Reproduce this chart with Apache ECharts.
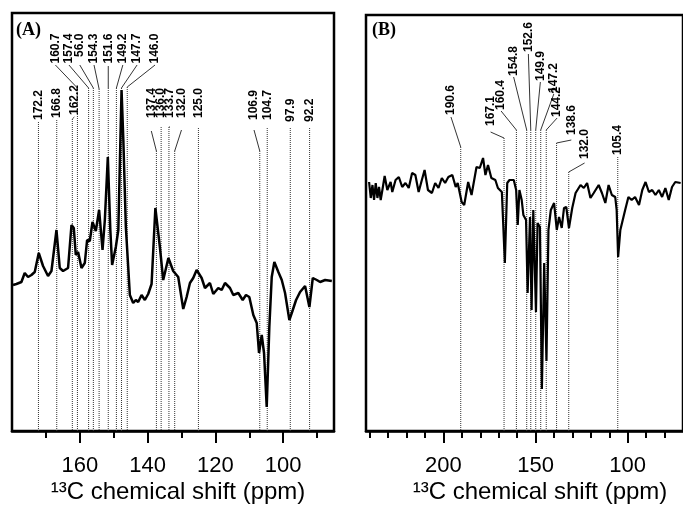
<!DOCTYPE html>
<html><head><meta charset="utf-8">
<script src="https://cdn.jsdelivr.net/npm/echarts@6/dist/echarts.min.js"></script>
<style>html,body{margin:0;padding:0;background:#fff}#c{width:683px;height:510px}</style>
</head><body><div id="c"></div><script>
// ---- Panel A spectrum (ppm, intensity in arbitrary units) ----
const shiftA = [179.70,178.70,177.22,176.25,175.27,174.27,173.29,172.11,170.84,169.37,168.36,166.88,165.91,164.93,163.46,162.45,161.77,161.18,160.50,159.50,158.52,157.84,157.05,156.25,155.27,154.30,153.29,152.61,151.73,150.99,150.46,149.37,148.63,147.68,147.15,146.41,145.23,144.25,143.46,142.78,141.77,140.80,139.82,138.82,137.70,136.37,135.39,133.86,133.41,132.44,130.96,129.48,128.48,127.50,126.53,125.53,124.05,123.07,121.60,120.62,119.14,118.14,117.16,115.69,114.71,113.24,111.94,110.96,109.99,108.80,107.80,107.12,106.32,105.64,104.85,104.08,103.37,102.60,101.42,100.41,99.44,98.17,97.16,96.19,95.01,93.53,92.26,91.26,90.07,89.10,87.62,85.64];
const intensityA = [146,147,149,158,154,156,159,178,165,155,160,201,163,160,163,206,203,176,179,163,168,191,190,209,200,221,181,211,274,201,166,184,201,341,291,204,136,128,131,129,136,131,137,147,223,184,151,173,173,160,154,122,134,148,153,161,153,143,148,137,143,141,148,143,136,138,131,136,134,116,108,78,96,78,24,104,154,169,159,151,138,111,121,131,139,145,124,153,151,149,151,150];

// ---- Panel B spectrum ----
const shiftB = [240.32,239.41,238.49,237.63,236.72,235.80,234.94,234.03,233.11,231.88,230.43,228.65,227.74,225.96,224.19,222.36,220.59,218.81,216.99,215.21,213.44,211.99,210.21,208.38,206.23,204.46,202.68,200.86,199.08,197.31,195.16,193.33,192.25,190.10,188.71,186.56,184.73,182.04,180.27,178.49,177.20,175.80,173.98,171.82,170.43,168.28,166.66,165.37,164.14,161.82,160.53,159.67,158.76,157.52,156.61,155.16,154.30,153.01,152.15,151.23,149.78,148.92,147.63,146.56,145.32,144.08,143.01,141.72,139.94,138.49,137.25,135.80,134.57,133.33,131.88,130.10,128.28,125.59,123.81,122.04,120.21,118.44,115.75,113.98,112.15,110.37,108.60,106.77,106.00,105.20,104.00,101.39,99.62,97.85,96.02,93.87,92.09,90.32,88.49,86.72,84.94,83.11,81.34,79.57,77.74,75.96,74.19,71.29];
const intensityB = [249,233,246,231,248,233,244,231,241,255,241,249,239,251,254,244,248,243,258,256,239,249,261,241,238,248,243,253,248,254,256,244,248,229,226,249,236,264,263,273,256,266,253,251,243,239,168,248,251,251,241,206,241,231,216,211,138,214,121,221,119,208,204,42,168,70,201,221,228,201,214,203,223,224,203,223,238,246,243,248,233,238,246,238,228,246,236,234,221,174,201,221,234,231,234,226,241,249,239,241,236,241,234,243,231,244,249,248];

// ---- Peak assignments ----
const peaksA = [172.2,166.8,162.2,160.7,157.4,156.0,154.3,151.6,149.2,147.7,146.0,137.4,136.0,133.7,132.0,125.0,106.9,104.7,97.9,92.2];
const peakTextA = ['172.2','166.8','162.2','160.7','157.4','56.0','154.3','151.6','149.2','147.7','146.0','137.4','136.0','133.7','132.0','125.0','106.9','104.7','97.9','92.2'];
const peaksB = [190.6,167.1,160.4,154.8,152.6,149.9,147.2,144.2,138.6,132.0,105.4];
const peakTextB = ['190.6','167.1','160.4','154.8','152.6','149.9','147.2','144.2','138.6','132.0','105.4'];

// ---- Axis ticks ----
const majorTicksA = [160,140,120,100];
const minorTicksA = [170,150,130,110,90];
const majorTicksB = [200,150,100];
const minorTicksB = [240,230,220,210,190,180,170,160,140,130,120,110,90,80];

// ---- Label layout (label anchor in axis units) ----
const layoutA = {
  at:    [172.2,166.8,161.6,167.2,163.2,160.0,155.8,151.6,147.3,143.1,137.8,138.9,136.0,133.4,130.0,125.0,108.6,104.7,97.9,92.2],
  base:  [311,313,316,367.5,367.5,374,367.5,367.5,367.5,367.5,367.5,313,313,313,313,313,311,311,309,309],
  lead:  [309,311,314,366,366,366,366,365,366,366,366,300,304,304,301,303,301,303,303,303],
  top:   [309,311,312,343,343,343,342,343,343,343,344,280,304,304,280,303,280,303,303,303]
};
const layoutB = {
  at:    [195.9,174.4,168.7,161.9,153.9,147.4,140.1,138.3,130.6,123.4,105.4],
  base:  [316,305,321,355,379,350,338,314,296,272,276],
  lead:  [314,299,320,354,377,349,337,313,291,268,274],
  top:   [284,293,301,301,301,301,301,301,288,259,274]
};

function buildMarks(peaks, lay) {
  return peaks.map((p, i) => [p, lay.at[i], lay.base[i], lay.lead[i], lay.top[i]]);
}
function makeRender(texts) {
  return function (params, api) {
    const peak = api.value(0), lab = api.value(1), base = api.value(2), lead = api.value(3), top = api.value(4);
    const pB = api.coord([peak, 0]);
    const pT = api.coord([peak, top]);
    const pL = api.coord([lab, lead]);
    const pX = api.coord([lab, base]);
    const children = [{
      type: 'line',
      shape: {x1: pT[0], y1: pT[1], x2: pB[0], y2: pB[1]},
      style: {stroke: '#333', lineWidth: 1, lineDash: [1, 1]}
    }];
    if (Math.abs(pL[0] - pT[0]) > 0.5 || Math.abs(pL[1] - pT[1]) > 0.5) {
      children.push({type: 'line', shape: {x1: pL[0], y1: pL[1], x2: pT[0], y2: pT[1]},
        style: {stroke: '#000', lineWidth: 0.8}});
    }
    children.push({
      type: 'text', x: pX[0], y: pX[1], rotation: Math.PI / 2,
      style: {text: texts[params.dataIndex], fill: '#000',
        font: 'bold 12px "Liberation Sans", Arial, sans-serif',
        align: 'left', verticalAlign: 'middle', textAlign: 'left', textVerticalAlign: 'middle'}
    });
    return {type: 'group', children: children};
  };
}

function xAxes(grid, min, max, major, minor) {
  return [
    {gridIndex: grid, type: 'value', min: min, max: max, inverse: true, position: 'bottom',
     splitLine: {show: false},
     axisLine: {show: true, onZero: false, lineStyle: {color: '#000', width: 2.5}},
     axisTick: {show: true, customValues: major, length: 12, lineStyle: {color: '#000', width: 2}},
     axisLabel: {show: true, customValues: major, fontSize: 22, color: '#000',
       fontFamily: '"Liberation Sans", Arial, sans-serif', margin: 24}},
    {gridIndex: grid, type: 'value', min: min, max: max, inverse: true, position: 'bottom',
     splitLine: {show: false}, axisLine: {show: false},
     axisTick: {show: true, customValues: minor, length: 7, lineStyle: {color: '#000', width: 2}},
     axisLabel: {show: false}}
  ];
}

const titleFont = '24px "Liberation Sans", Arial, sans-serif';
const option = {
  animation: false,
  backgroundColor: '#fff',
  grid: [
    {left: 12, top: 13, width: 322, height: 418, show: true, borderColor: '#000', borderWidth: 2.5},
    {left: 366, top: 15, width: 320, height: 416, show: true, borderColor: '#000', borderWidth: 2.5}
  ],
  xAxis: xAxes(0, 85, 180, majorTicksA, minorTicksA).concat(xAxes(1, 70, 242, majorTicksB, minorTicksB)),
  yAxis: [
    {gridIndex: 0, type: 'value', min: 0, max: 418, show: false},
    {gridIndex: 1, type: 'value', min: 0, max: 416, show: false}
  ],
  graphic: [
    {type: 'text', x: 16, y: 21, style: {text: '(A)', font: 'bold 18px "Liberation Serif", "Times New Roman", serif', fill: '#000'}},
    {type: 'text', x: 372, y: 21, style: {text: '(B)', font: 'bold 18px "Liberation Serif", "Times New Roman", serif', fill: '#000'}},
    {type: 'text', x: 178, y: 492, style: {text: '¹³C chemical shift (ppm)', font: titleFont, fill: '#000',
      align: 'center', verticalAlign: 'middle', textAlign: 'center', textVerticalAlign: 'middle'}},
    {type: 'text', x: 540, y: 492, style: {text: '¹³C chemical shift (ppm)', font: titleFont, fill: '#000',
      align: 'center', verticalAlign: 'middle', textAlign: 'center', textVerticalAlign: 'middle'}}
  ],
  series: [
    {type: 'custom', xAxisIndex: 0, yAxisIndex: 0, clip: false, silent: true, z: 1,
     data: buildMarks(peaksA, layoutA), renderItem: makeRender(peakTextA)},
    {type: 'line', xAxisIndex: 0, yAxisIndex: 0, z: 3, showSymbol: false, silent: true,
     data: shiftA.map((s, i) => [s, intensityA[i]]),
     lineStyle: {color: '#000', width: 2.5}},
    {type: 'custom', xAxisIndex: 2, yAxisIndex: 1, clip: false, silent: true, z: 1,
     data: buildMarks(peaksB, layoutB), renderItem: makeRender(peakTextB)},
    {type: 'line', xAxisIndex: 2, yAxisIndex: 1, z: 3, showSymbol: false, silent: true,
     data: shiftB.map((s, i) => [s, intensityB[i]]),
     lineStyle: {color: '#000', width: 2.2}}
  ]
};
echarts.init(document.getElementById('c'), null, {renderer: 'canvas'}).setOption(option);
</script></body></html>
